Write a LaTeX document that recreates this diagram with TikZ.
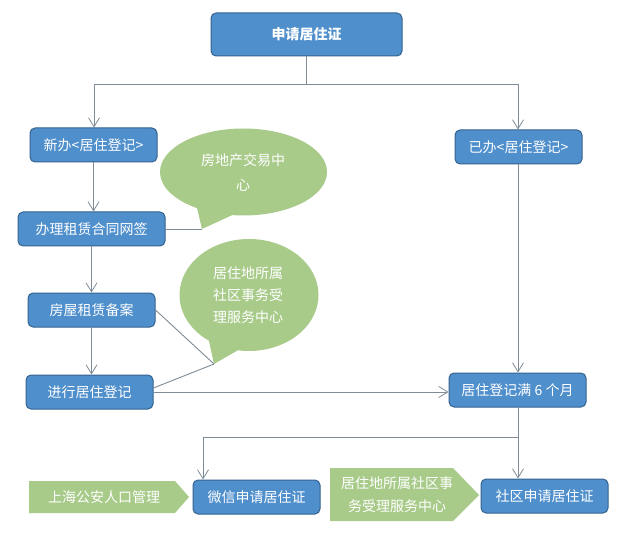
\documentclass[tikz,border=0pt]{standalone}
\usepackage{fontspec}
\setmainfont{Noto Sans CJK SC}
\usetikzlibrary{shapes.callouts,arrows.meta}
\definecolor{boxblue}{HTML}{4F8FCC}
\definecolor{boxedge}{HTML}{35638F}
\definecolor{leaf}{HTML}{A8CB8A}
\definecolor{wire}{HTML}{7F8C97}
\tikzset{
  x=1pt,y=-1pt,
  flow/.style={rectangle,rounded corners=5pt,draw=boxedge,line width=1pt,fill=boxblue,text=white,font=\fontsize{14}{16}\selectfont,inner sep=0pt,anchor=center},
  talk/.style={ellipse callout,fill=leaf,text=white,font=\fontsize{14}{25}\selectfont,align=center,inner sep=0pt,callout pointer arc=26},
  tag/.style={text=white,font=\fontsize{14}{23}\selectfont,align=center,inner sep=0pt},
  wireline/.style={draw=wire,line width=0.9pt},
  go/.style={wireline,-{Straight Barb[length=9pt,width=11pt,line width=0.8pt]}},
}
\begin{document}
\begin{tikzpicture}
\useasboundingbox (0,0) rectangle (636,534);
\fill[white] (0,0) rectangle (636,534);
% green shapes
\fill[leaf] (29,481) -- (175,481) -- (189,497) -- (175,513) -- (29,513) -- cycle;
\fill[leaf] (330,468) -- (453,468) -- (479,495) -- (453,521) -- (330,521) -- cycle;
\node[talk,minimum width=167pt,minimum height=87pt,callout absolute pointer={(202,229)}] (estate) at (243.5,172) {};
\node[talk,minimum width=139pt,minimum height=112pt,callout absolute pointer={(214,364)}] (service) at (249,295) {};
\node[tag,font=\fontsize{14}{25}\selectfont] (estatetxt) at (243,172) {房地产交易中\\心};
\node[tag,font=\fontsize{14}{22}\selectfont] (servicetxt) at (248,295) {居住地所属\\社区事务受\\理服务中心};
\node[tag] (police) at (104,497) {上海公安人口管理};
\node[tag] (community) at (397,495) {居住地所属社区事\\务受理服务中心};
% blue boxes
\node[flow,minimum width=191pt,minimum height=43pt,font=\fontsize{14}{16}\selectfont\bfseries] (apply) at (306.5,34.5) {申请居住证};
\node[flow,minimum width=127pt,minimum height=34pt] (newreg) at (93.5,145) {新办<居住登记>};
\node[flow,minimum width=127pt,minimum height=34pt] (hasreg) at (518.5,147) {已办<居住登记>};
\node[flow,minimum width=147pt,minimum height=34pt] (lease) at (91.5,229) {办理租赁合同网签};
\node[flow,minimum width=127pt,minimum height=34pt] (file) at (91.5,310) {房屋租赁备案};
\node[flow,minimum width=127pt,minimum height=34pt] (doreg) at (89.5,392) {进行居住登记};
\node[flow,minimum width=137pt,minimum height=34pt] (six) at (517.5,390) {居住登记满 6 个月};
\node[flow,minimum width=127pt,minimum height=34pt] (wechat) at (256.5,497) {微信申请居住证};
\node[flow,minimum width=127pt,minimum height=34pt] (commapply) at (544.5,496) {社区申请居住证};
% junctions
\coordinate (split) at (306,84);
\coordinate (splitl) at (94,84);
\coordinate (splitr) at (518,84);
\coordinate (lower) at (518,437);
\coordinate (lowerl) at (203,437);
\coordinate (tipa) at (202,229);
\coordinate (tipb) at (214,364);
% connectors
\draw[wireline] (apply.south -| split) -- (split);
\draw[go] (split) -- (splitl) -- (newreg.north -| splitl);
\draw[go] (split) -- (splitr) -- (hasreg.north -| splitr);
\draw[go] (newreg.south) -- (lease.north -| newreg.south);
\draw[go] (lease.south) -- (file.north -| lease.south);
\draw[go] (file.south) -- (doreg.north -| file.south);
\draw[go] (hasreg.south -| splitr) -- (six.north -| splitr);
\draw[go] (doreg.east) -- (six.west |- doreg.east);
\draw[go] (six.south -| splitr) -- (commapply.north -| splitr);
\draw[go] (lower) -- (lowerl) -- (wechat.north -| lowerl);
\draw[wireline] (lease.east) -- (tipa);
\draw[wireline] (file.east) -- (tipb);
\draw[wireline] (doreg.east) ++(0,-4) -- (tipb);
\end{tikzpicture}
\end{document}
